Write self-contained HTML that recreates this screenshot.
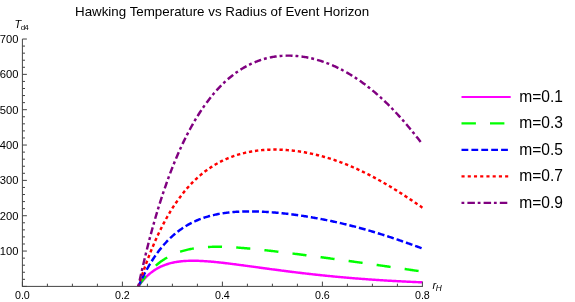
<!DOCTYPE html>
<html><head><meta charset="utf-8"><title>Hawking Temperature vs Radius of Event Horizon</title>
<style>html,body{margin:0;padding:0;background:#fff;}body{width:575px;height:302px;overflow:hidden;position:relative;font-family:"Liberation Sans",sans-serif;}</style></head>
<body>
<svg width="575" height="302" viewBox="0 0 575 302" style="position:absolute;left:0;top:0;font-family:'Liberation Sans',sans-serif;will-change:transform">
<rect width="575" height="302" fill="#fff"/>
<path d="M138.40,286.40 L139.35,285.05 L140.30,283.77 L141.25,282.54 L142.20,281.36 L143.15,280.24 L144.10,279.16 L145.05,278.14 L146.00,277.16 L146.95,276.22 L147.90,275.33 L148.85,274.48 L149.80,273.67 L150.75,272.89 L151.70,272.15 L152.65,271.45 L153.60,270.78 L154.55,270.14 L155.50,269.54 L156.45,268.96 L157.40,268.41 L158.35,267.89 L159.30,267.39 L160.25,266.92 L161.20,266.47 L162.15,266.05 L163.10,265.65 L164.05,265.27 L165.00,264.91 L165.95,264.58 L166.89,264.26 L167.84,263.96 L168.79,263.68 L169.74,263.41 L170.69,263.16 L171.64,262.93 L172.59,262.71 L173.54,262.50 L174.49,262.31 L175.44,262.14 L176.39,261.97 L177.34,261.82 L178.29,261.68 L179.24,261.56 L180.19,261.44 L181.14,261.33 L182.09,261.24 L183.04,261.15 L183.99,261.07 L184.94,261.01 L185.89,260.95 L186.84,260.90 L187.79,260.85 L188.74,260.82 L189.69,260.79 L190.64,260.77 L191.59,260.76 L192.54,260.75 L193.49,260.75 L194.44,260.76 L195.39,260.77 L196.34,260.79 L197.29,260.81 L198.24,260.84 L199.19,260.87 L200.14,260.91 L201.09,260.95 L202.04,261.00 L202.99,261.05 L203.94,261.10 L204.89,261.16 L205.84,261.22 L206.79,261.29 L207.74,261.36 L208.69,261.43 L209.64,261.50 L210.59,261.58 L211.54,261.66 L212.49,261.75 L213.44,261.84 L214.39,261.93 L215.34,262.02 L216.29,262.11 L217.24,262.21 L218.19,262.31 L219.14,262.41 L220.09,262.51 L221.04,262.61 L221.99,262.72 L222.94,262.83 L223.88,262.93 L224.83,263.05 L225.78,263.16 L226.73,263.27 L227.68,263.39 L228.63,263.50 L229.58,263.62 L230.53,263.74 L231.48,263.86 L232.43,263.97 L233.38,264.10 L234.33,264.22 L235.28,264.34 L236.23,264.46 L237.18,264.59 L238.13,264.71 L239.08,264.84 L240.03,264.96 L240.98,265.09 L241.93,265.22 L242.88,265.34 L243.83,265.47 L244.78,265.60 L245.73,265.73 L246.68,265.86 L247.63,265.99 L248.58,266.11 L249.53,266.24 L250.48,266.37 L251.43,266.50 L252.38,266.63 L253.33,266.76 L254.28,266.89 L255.23,267.02 L256.18,267.15 L257.13,267.28 L258.08,267.41 L259.03,267.54 L259.98,267.67 L260.93,267.80 L261.88,267.93 L262.83,268.06 L263.78,268.19 L264.73,268.32 L265.68,268.45 L266.63,268.57 L267.58,268.70 L268.53,268.83 L269.48,268.96 L270.43,269.09 L271.38,269.21 L272.33,269.34 L273.28,269.47 L274.23,269.59 L275.18,269.72 L276.13,269.84 L277.08,269.97 L278.03,270.09 L278.98,270.22 L279.93,270.34 L280.87,270.46 L281.82,270.59 L282.77,270.71 L283.72,270.83 L284.67,270.95 L285.62,271.08 L286.57,271.20 L287.52,271.32 L288.47,271.44 L289.42,271.55 L290.37,271.67 L291.32,271.79 L292.27,271.91 L293.22,272.03 L294.17,272.14 L295.12,272.26 L296.07,272.38 L297.02,272.49 L297.97,272.60 L298.92,272.72 L299.87,272.83 L300.82,272.94 L301.77,273.06 L302.72,273.17 L303.67,273.28 L304.62,273.39 L305.57,273.50 L306.52,273.61 L307.47,273.72 L308.42,273.83 L309.37,273.93 L310.32,274.04 L311.27,274.15 L312.22,274.25 L313.17,274.36 L314.12,274.46 L315.07,274.57 L316.02,274.67 L316.97,274.77 L317.92,274.87 L318.87,274.97 L319.82,275.07 L320.77,275.17 L321.72,275.27 L322.67,275.37 L323.62,275.47 L324.57,275.57 L325.52,275.66 L326.47,275.76 L327.42,275.86 L328.37,275.95 L329.32,276.05 L330.27,276.14 L331.22,276.23 L332.17,276.32 L333.12,276.42 L334.07,276.51 L335.02,276.60 L335.97,276.69 L336.92,276.78 L337.86,276.86 L338.81,276.95 L339.76,277.04 L340.71,277.13 L341.66,277.21 L342.61,277.30 L343.56,277.38 L344.51,277.47 L345.46,277.55 L346.41,277.63 L347.36,277.71 L348.31,277.80 L349.26,277.88 L350.21,277.96 L351.16,278.04 L352.11,278.11 L353.06,278.19 L354.01,278.27 L354.96,278.35 L355.91,278.42 L356.86,278.50 L357.81,278.57 L358.76,278.65 L359.71,278.72 L360.66,278.80 L361.61,278.87 L362.56,278.94 L363.51,279.01 L364.46,279.08 L365.41,279.15 L366.36,279.22 L367.31,279.29 L368.26,279.36 L369.21,279.43 L370.16,279.49 L371.11,279.56 L372.06,279.63 L373.01,279.69 L373.96,279.76 L374.91,279.82 L375.86,279.88 L376.81,279.95 L377.76,280.01 L378.71,280.07 L379.66,280.13 L380.61,280.19 L381.56,280.25 L382.51,280.31 L383.46,280.37 L384.41,280.43 L385.36,280.49 L386.31,280.55 L387.26,280.60 L388.21,280.66 L389.16,280.71 L390.11,280.77 L391.06,280.82 L392.01,280.88 L392.96,280.93 L393.91,280.98 L394.85,281.04 L395.80,281.09 L396.75,281.14 L397.70,281.19 L398.65,281.24 L399.60,281.29 L400.55,281.34 L401.50,281.39 L402.45,281.44 L403.40,281.48 L404.35,281.53 L405.30,281.58 L406.25,281.62 L407.20,281.67 L408.15,281.72 L409.10,281.76 L410.05,281.80 L411.00,281.85 L411.95,281.89 L412.90,281.93 L413.85,281.98 L414.80,282.02 L415.75,282.06 L416.70,282.10 L417.65,282.14 L418.60,282.18 L419.55,282.22 L420.50,282.26 L421.45,282.30 L422.40,282.34" fill="none" stroke="#ff00ff" stroke-width="2.45"/>
<path d="M138.40,286.40 L139.35,284.93 L140.30,283.50 L141.25,282.12 L142.20,280.78 L143.15,279.48 L144.10,278.23 L145.05,277.01 L146.00,275.83 L146.95,274.68 L147.90,273.58 L148.85,272.50 L149.80,271.47 L150.75,270.46 L151.70,269.49 L152.65,268.55 L153.60,267.64 L154.55,266.76 L155.50,265.90 L156.45,265.08 L157.40,264.28 L158.35,263.51 L159.30,262.77 L160.25,262.05 L161.20,261.36 L162.15,260.69 L163.10,260.04 L164.05,259.42 L165.00,258.82 L165.95,258.24 L166.89,257.68 L167.84,257.14 L168.79,256.62 L169.74,256.12 L170.69,255.64 L171.64,255.17 L172.59,254.73 L173.54,254.30 L174.49,253.89 L175.44,253.49 L176.39,253.11 L177.34,252.74 L178.29,252.39 L179.24,252.06 L180.19,251.73 L181.14,251.43 L182.09,251.13 L183.04,250.85 L183.99,250.58 L184.94,250.32 L185.89,250.07 L186.84,249.84 L187.79,249.62 L188.74,249.40 L189.69,249.20 L190.64,249.01 L191.59,248.83 L192.54,248.66 L193.49,248.49 L194.44,248.34 L195.39,248.19 L196.34,248.06 L197.29,247.93 L198.24,247.81 L199.19,247.70 L200.14,247.59 L201.09,247.50 L202.04,247.41 L202.99,247.32 L203.94,247.25 L204.89,247.18 L205.84,247.11 L206.79,247.05 L207.74,247.00 L208.69,246.96 L209.64,246.92 L210.59,246.88 L211.54,246.85 L212.49,246.83 L213.44,246.81 L214.39,246.80 L215.34,246.79 L216.29,246.78 L217.24,246.78 L218.19,246.78 L219.14,246.79 L220.09,246.80 L221.04,246.82 L221.99,246.84 L222.94,246.86 L223.88,246.89 L224.83,246.92 L225.78,246.95 L226.73,246.99 L227.68,247.03 L228.63,247.07 L229.58,247.11 L230.53,247.16 L231.48,247.21 L232.43,247.27 L233.38,247.32 L234.33,247.38 L235.28,247.44 L236.23,247.51 L237.18,247.57 L238.13,247.64 L239.08,247.71 L240.03,247.78 L240.98,247.85 L241.93,247.93 L242.88,248.01 L243.83,248.09 L244.78,248.17 L245.73,248.25 L246.68,248.33 L247.63,248.42 L248.58,248.51 L249.53,248.59 L250.48,248.68 L251.43,248.78 L252.38,248.87 L253.33,248.96 L254.28,249.06 L255.23,249.15 L256.18,249.25 L257.13,249.35 L258.08,249.45 L259.03,249.55 L259.98,249.65 L260.93,249.75 L261.88,249.86 L262.83,249.96 L263.78,250.06 L264.73,250.17 L265.68,250.28 L266.63,250.38 L267.58,250.49 L268.53,250.60 L269.48,250.71 L270.43,250.82 L271.38,250.93 L272.33,251.04 L273.28,251.15 L274.23,251.27 L275.18,251.38 L276.13,251.49 L277.08,251.61 L278.03,251.72 L278.98,251.84 L279.93,251.95 L280.87,252.07 L281.82,252.18 L282.77,252.30 L283.72,252.42 L284.67,252.53 L285.62,252.65 L286.57,252.77 L287.52,252.89 L288.47,253.01 L289.42,253.13 L290.37,253.25 L291.32,253.37 L292.27,253.49 L293.22,253.61 L294.17,253.73 L295.12,253.85 L296.07,253.97 L297.02,254.09 L297.97,254.21 L298.92,254.33 L299.87,254.46 L300.82,254.58 L301.77,254.70 L302.72,254.82 L303.67,254.95 L304.62,255.07 L305.57,255.19 L306.52,255.32 L307.47,255.44 L308.42,255.56 L309.37,255.69 L310.32,255.81 L311.27,255.94 L312.22,256.06 L313.17,256.19 L314.12,256.31 L315.07,256.44 L316.02,256.56 L316.97,256.69 L317.92,256.81 L318.87,256.94 L319.82,257.06 L320.77,257.19 L321.72,257.32 L322.67,257.44 L323.62,257.57 L324.57,257.70 L325.52,257.82 L326.47,257.95 L327.42,258.08 L328.37,258.21 L329.32,258.33 L330.27,258.46 L331.22,258.59 L332.17,258.72 L333.12,258.85 L334.07,258.97 L335.02,259.10 L335.97,259.23 L336.92,259.36 L337.86,259.49 L338.81,259.62 L339.76,259.75 L340.71,259.88 L341.66,260.01 L342.61,260.14 L343.56,260.27 L344.51,260.40 L345.46,260.53 L346.41,260.66 L347.36,260.79 L348.31,260.92 L349.26,261.05 L350.21,261.19 L351.16,261.32 L352.11,261.45 L353.06,261.58 L354.01,261.71 L354.96,261.84 L355.91,261.98 L356.86,262.11 L357.81,262.24 L358.76,262.38 L359.71,262.51 L360.66,262.64 L361.61,262.78 L362.56,262.91 L363.51,263.04 L364.46,263.18 L365.41,263.31 L366.36,263.45 L367.31,263.58 L368.26,263.72 L369.21,263.85 L370.16,263.99 L371.11,264.12 L372.06,264.26 L373.01,264.39 L373.96,264.53 L374.91,264.66 L375.86,264.80 L376.81,264.94 L377.76,265.07 L378.71,265.21 L379.66,265.35 L380.61,265.48 L381.56,265.62 L382.51,265.76 L383.46,265.89 L384.41,266.03 L385.36,266.17 L386.31,266.31 L387.26,266.45 L388.21,266.58 L389.16,266.72 L390.11,266.86 L391.06,267.00 L392.01,267.14 L392.96,267.28 L393.91,267.41 L394.85,267.55 L395.80,267.69 L396.75,267.83 L397.70,267.97 L398.65,268.11 L399.60,268.25 L400.55,268.39 L401.50,268.53 L402.45,268.67 L403.40,268.81 L404.35,268.95 L405.30,269.08 L406.25,269.22 L407.20,269.36 L408.15,269.50 L409.10,269.64 L410.05,269.78 L411.00,269.92 L411.95,270.06 L412.90,270.20 L413.85,270.34 L414.80,270.48 L415.75,270.62 L416.70,270.76 L417.65,270.90 L418.60,271.04 L419.55,271.18 L420.50,271.32 L421.45,271.46 L422.40,271.59" fill="none" stroke="#00ff00" stroke-width="2.45" stroke-dasharray="14.1 14.2" stroke-dashoffset="1.2"/>
<path d="M138.40,286.40 L139.35,284.30 L140.30,282.26 L141.25,280.26 L142.20,278.31 L143.15,276.40 L144.10,274.55 L145.05,272.73 L146.00,270.97 L146.95,269.24 L147.90,267.56 L148.85,265.92 L149.80,264.32 L150.75,262.75 L151.70,261.23 L152.65,259.74 L153.60,258.29 L154.55,256.88 L155.50,255.50 L156.45,254.16 L157.40,252.85 L158.35,251.57 L159.30,250.33 L160.25,249.12 L161.20,247.94 L162.15,246.78 L163.10,245.66 L164.05,244.57 L165.00,243.50 L165.95,242.46 L166.89,241.45 L167.84,240.47 L168.79,239.51 L169.74,238.58 L170.69,237.67 L171.64,236.78 L172.59,235.92 L173.54,235.08 L174.49,234.26 L175.44,233.47 L176.39,232.70 L177.34,231.95 L178.29,231.21 L179.24,230.50 L180.19,229.81 L181.14,229.14 L182.09,228.48 L183.04,227.85 L183.99,227.23 L184.94,226.63 L185.89,226.05 L186.84,225.48 L187.79,224.93 L188.74,224.40 L189.69,223.88 L190.64,223.37 L191.59,222.89 L192.54,222.41 L193.49,221.95 L194.44,221.51 L195.39,221.07 L196.34,220.65 L197.29,220.25 L198.24,219.85 L199.19,219.47 L200.14,219.10 L201.09,218.75 L202.04,218.40 L202.99,218.07 L203.94,217.74 L204.89,217.43 L205.84,217.13 L206.79,216.84 L207.74,216.56 L208.69,216.28 L209.64,216.02 L210.59,215.77 L211.54,215.53 L212.49,215.29 L213.44,215.07 L214.39,214.85 L215.34,214.64 L216.29,214.44 L217.24,214.25 L218.19,214.06 L219.14,213.88 L220.09,213.72 L221.04,213.55 L221.99,213.40 L222.94,213.25 L223.88,213.11 L224.83,212.97 L225.78,212.85 L226.73,212.72 L227.68,212.61 L228.63,212.50 L229.58,212.40 L230.53,212.30 L231.48,212.21 L232.43,212.12 L233.38,212.04 L234.33,211.97 L235.28,211.90 L236.23,211.83 L237.18,211.77 L238.13,211.72 L239.08,211.67 L240.03,211.62 L240.98,211.58 L241.93,211.55 L242.88,211.52 L243.83,211.49 L244.78,211.47 L245.73,211.45 L246.68,211.43 L247.63,211.42 L248.58,211.42 L249.53,211.42 L250.48,211.42 L251.43,211.42 L252.38,211.43 L253.33,211.44 L254.28,211.46 L255.23,211.48 L256.18,211.50 L257.13,211.53 L258.08,211.56 L259.03,211.59 L259.98,211.62 L260.93,211.66 L261.88,211.70 L262.83,211.75 L263.78,211.80 L264.73,211.85 L265.68,211.90 L266.63,211.96 L267.58,212.02 L268.53,212.08 L269.48,212.14 L270.43,212.21 L271.38,212.28 L272.33,212.35 L273.28,212.43 L274.23,212.51 L275.18,212.59 L276.13,212.67 L277.08,212.75 L278.03,212.84 L278.98,212.93 L279.93,213.02 L280.87,213.12 L281.82,213.21 L282.77,213.31 L283.72,213.41 L284.67,213.52 L285.62,213.62 L286.57,213.73 L287.52,213.84 L288.47,213.95 L289.42,214.07 L290.37,214.18 L291.32,214.30 L292.27,214.42 L293.22,214.55 L294.17,214.67 L295.12,214.80 L296.07,214.93 L297.02,215.06 L297.97,215.19 L298.92,215.33 L299.87,215.46 L300.82,215.60 L301.77,215.74 L302.72,215.89 L303.67,216.03 L304.62,216.18 L305.57,216.33 L306.52,216.48 L307.47,216.63 L308.42,216.78 L309.37,216.94 L310.32,217.10 L311.27,217.26 L312.22,217.42 L313.17,217.59 L314.12,217.75 L315.07,217.92 L316.02,218.09 L316.97,218.26 L317.92,218.43 L318.87,218.61 L319.82,218.79 L320.77,218.97 L321.72,219.15 L322.67,219.33 L323.62,219.52 L324.57,219.70 L325.52,219.89 L326.47,220.08 L327.42,220.28 L328.37,220.47 L329.32,220.67 L330.27,220.86 L331.22,221.06 L332.17,221.27 L333.12,221.47 L334.07,221.68 L335.02,221.88 L335.97,222.09 L336.92,222.31 L337.86,222.52 L338.81,222.74 L339.76,222.95 L340.71,223.17 L341.66,223.39 L342.61,223.62 L343.56,223.84 L344.51,224.07 L345.46,224.30 L346.41,224.53 L347.36,224.76 L348.31,224.99 L349.26,225.23 L350.21,225.47 L351.16,225.71 L352.11,225.95 L353.06,226.19 L354.01,226.44 L354.96,226.69 L355.91,226.94 L356.86,227.19 L357.81,227.44 L358.76,227.70 L359.71,227.96 L360.66,228.22 L361.61,228.48 L362.56,228.74 L363.51,229.00 L364.46,229.27 L365.41,229.54 L366.36,229.81 L367.31,230.08 L368.26,230.35 L369.21,230.63 L370.16,230.91 L371.11,231.19 L372.06,231.47 L373.01,231.75 L373.96,232.04 L374.91,232.32 L375.86,232.61 L376.81,232.90 L377.76,233.19 L378.71,233.49 L379.66,233.78 L380.61,234.08 L381.56,234.38 L382.51,234.68 L383.46,234.98 L384.41,235.28 L385.36,235.59 L386.31,235.89 L387.26,236.20 L388.21,236.51 L389.16,236.82 L390.11,237.14 L391.06,237.45 L392.01,237.77 L392.96,238.08 L393.91,238.40 L394.85,238.72 L395.80,239.05 L396.75,239.37 L397.70,239.69 L398.65,240.02 L399.60,240.35 L400.55,240.67 L401.50,241.00 L402.45,241.33 L403.40,241.67 L404.35,242.00 L405.30,242.33 L406.25,242.67 L407.20,243.00 L408.15,243.34 L409.10,243.68 L410.05,244.02 L411.00,244.36 L411.95,244.70 L412.90,245.04 L413.85,245.39 L414.80,245.73 L415.75,246.07 L416.70,246.42 L417.65,246.77 L418.60,247.11 L419.55,247.46 L420.50,247.81 L421.45,248.16 L422.40,248.51" fill="none" stroke="#0000ff" stroke-width="2.45" stroke-dasharray="6.9 2.95" stroke-dashoffset="1.08"/>
<path d="M138.40,286.40 L139.35,283.40 L140.30,280.46 L141.25,277.57 L142.20,274.74 L143.15,271.96 L144.10,269.24 L145.05,266.56 L146.00,263.94 L146.95,261.37 L147.90,258.84 L148.85,256.37 L149.80,253.94 L150.75,251.56 L151.70,249.22 L152.65,246.93 L153.60,244.69 L154.55,242.49 L155.50,240.33 L156.45,238.21 L157.40,236.13 L158.35,234.09 L159.30,232.10 L160.25,230.14 L161.20,228.22 L162.15,226.34 L163.10,224.49 L164.05,222.69 L165.00,220.91 L165.95,219.17 L166.89,217.47 L167.84,215.80 L168.79,214.16 L169.74,212.56 L170.69,210.99 L171.64,209.45 L172.59,207.94 L173.54,206.46 L174.49,205.01 L175.44,203.59 L176.39,202.20 L177.34,200.83 L178.29,199.50 L179.24,198.19 L180.19,196.91 L181.14,195.65 L182.09,194.42 L183.04,193.22 L183.99,192.04 L184.94,190.88 L185.89,189.75 L186.84,188.64 L187.79,187.56 L188.74,186.49 L189.69,185.46 L190.64,184.44 L191.59,183.44 L192.54,182.47 L193.49,181.51 L194.44,180.58 L195.39,179.66 L196.34,178.77 L197.29,177.90 L198.24,177.04 L199.19,176.20 L200.14,175.39 L201.09,174.59 L202.04,173.80 L202.99,173.04 L203.94,172.29 L204.89,171.56 L205.84,170.84 L206.79,170.14 L207.74,169.46 L208.69,168.80 L209.64,168.14 L210.59,167.51 L211.54,166.89 L212.49,166.28 L213.44,165.69 L214.39,165.11 L215.34,164.55 L216.29,164.00 L217.24,163.46 L218.19,162.93 L219.14,162.42 L220.09,161.93 L221.04,161.44 L221.99,160.97 L222.94,160.51 L223.88,160.06 L224.83,159.62 L225.78,159.20 L226.73,158.78 L227.68,158.38 L228.63,157.99 L229.58,157.61 L230.53,157.24 L231.48,156.88 L232.43,156.53 L233.38,156.19 L234.33,155.86 L235.28,155.55 L236.23,155.24 L237.18,154.94 L238.13,154.65 L239.08,154.37 L240.03,154.10 L240.98,153.84 L241.93,153.58 L242.88,153.34 L243.83,153.10 L244.78,152.88 L245.73,152.66 L246.68,152.45 L247.63,152.25 L248.58,152.05 L249.53,151.87 L250.48,151.69 L251.43,151.52 L252.38,151.36 L253.33,151.21 L254.28,151.06 L255.23,150.92 L256.18,150.79 L257.13,150.66 L258.08,150.55 L259.03,150.44 L259.98,150.33 L260.93,150.24 L261.88,150.15 L262.83,150.07 L263.78,149.99 L264.73,149.92 L265.68,149.86 L266.63,149.80 L267.58,149.75 L268.53,149.71 L269.48,149.67 L270.43,149.64 L271.38,149.62 L272.33,149.60 L273.28,149.59 L274.23,149.58 L275.18,149.58 L276.13,149.58 L277.08,149.60 L278.03,149.61 L278.98,149.64 L279.93,149.67 L280.87,149.70 L281.82,149.74 L282.77,149.79 L283.72,149.84 L284.67,149.90 L285.62,149.96 L286.57,150.03 L287.52,150.10 L288.47,150.18 L289.42,150.26 L290.37,150.35 L291.32,150.45 L292.27,150.55 L293.22,150.66 L294.17,150.77 L295.12,150.88 L296.07,151.00 L297.02,151.13 L297.97,151.26 L298.92,151.40 L299.87,151.54 L300.82,151.69 L301.77,151.84 L302.72,152.00 L303.67,152.16 L304.62,152.33 L305.57,152.50 L306.52,152.68 L307.47,152.86 L308.42,153.05 L309.37,153.24 L310.32,153.44 L311.27,153.64 L312.22,153.85 L313.17,154.06 L314.12,154.27 L315.07,154.50 L316.02,154.72 L316.97,154.95 L317.92,155.19 L318.87,155.43 L319.82,155.68 L320.77,155.93 L321.72,156.18 L322.67,156.44 L323.62,156.71 L324.57,156.98 L325.52,157.25 L326.47,157.53 L327.42,157.81 L328.37,158.10 L329.32,158.40 L330.27,158.70 L331.22,159.00 L332.17,159.31 L333.12,159.62 L334.07,159.94 L335.02,160.26 L335.97,160.58 L336.92,160.91 L337.86,161.25 L338.81,161.59 L339.76,161.94 L340.71,162.29 L341.66,162.64 L342.61,163.00 L343.56,163.36 L344.51,163.73 L345.46,164.11 L346.41,164.48 L347.36,164.86 L348.31,165.25 L349.26,165.64 L350.21,166.04 L351.16,166.44 L352.11,166.84 L353.06,167.25 L354.01,167.67 L354.96,168.09 L355.91,168.51 L356.86,168.94 L357.81,169.37 L358.76,169.80 L359.71,170.25 L360.66,170.69 L361.61,171.14 L362.56,171.59 L363.51,172.05 L364.46,172.51 L365.41,172.98 L366.36,173.45 L367.31,173.93 L368.26,174.41 L369.21,174.89 L370.16,175.38 L371.11,175.87 L372.06,176.37 L373.01,176.87 L373.96,177.37 L374.91,177.88 L375.86,178.40 L376.81,178.91 L377.76,179.43 L378.71,179.96 L379.66,180.49 L380.61,181.02 L381.56,181.56 L382.51,182.10 L383.46,182.64 L384.41,183.19 L385.36,183.74 L386.31,184.30 L387.26,184.86 L388.21,185.42 L389.16,185.98 L390.11,186.55 L391.06,187.13 L392.01,187.70 L392.96,188.28 L393.91,188.87 L394.85,189.45 L395.80,190.04 L396.75,190.64 L397.70,191.23 L398.65,191.83 L399.60,192.43 L400.55,193.04 L401.50,193.65 L402.45,194.26 L403.40,194.87 L404.35,195.49 L405.30,196.11 L406.25,196.73 L407.20,197.36 L408.15,197.98 L409.10,198.61 L410.05,199.25 L411.00,199.88 L411.95,200.52 L412.90,201.16 L413.85,201.80 L414.80,202.44 L415.75,203.09 L416.70,203.74 L417.65,204.38 L418.60,205.04 L419.55,205.69 L420.50,206.34 L421.45,207.00 L422.40,207.66" fill="none" stroke="#ff0000" stroke-width="2.45" stroke-dasharray="3.3 2.835" stroke-dashoffset="0.68"/>
<path d="M138.40,286.40 L139.35,281.97 L140.30,277.61 L141.25,273.34 L142.20,269.14 L143.15,265.01 L144.10,260.96 L145.05,256.98 L146.00,253.07 L146.95,249.23 L147.90,245.45 L148.85,241.74 L149.80,238.09 L150.75,234.51 L151.70,230.99 L152.65,227.53 L153.60,224.13 L154.55,220.78 L155.50,217.50 L156.45,214.27 L157.40,211.09 L158.35,207.97 L159.30,204.90 L160.25,201.88 L161.20,198.92 L162.15,196.00 L163.10,193.13 L164.05,190.32 L165.00,187.54 L165.95,184.82 L166.89,182.14 L167.84,179.51 L168.79,176.92 L169.74,174.37 L170.69,171.86 L171.64,169.40 L172.59,166.98 L173.54,164.60 L174.49,162.26 L175.44,159.96 L176.39,157.69 L177.34,155.47 L178.29,153.28 L179.24,151.13 L180.19,149.01 L181.14,146.93 L182.09,144.89 L183.04,142.87 L183.99,140.90 L184.94,138.95 L185.89,137.04 L186.84,135.17 L187.79,133.32 L188.74,131.50 L189.69,129.72 L190.64,127.97 L191.59,126.24 L192.54,124.55 L193.49,122.88 L194.44,121.25 L195.39,119.64 L196.34,118.06 L197.29,116.51 L198.24,114.98 L199.19,113.49 L200.14,112.01 L201.09,110.57 L202.04,109.15 L202.99,107.75 L203.94,106.38 L204.89,105.04 L205.84,103.72 L206.79,102.42 L207.74,101.15 L208.69,99.90 L209.64,98.67 L210.59,97.47 L211.54,96.28 L212.49,95.13 L213.44,93.99 L214.39,92.87 L215.34,91.78 L216.29,90.70 L217.24,89.65 L218.19,88.62 L219.14,87.61 L220.09,86.62 L221.04,85.64 L221.99,84.69 L222.94,83.76 L223.88,82.84 L224.83,81.95 L225.78,81.07 L226.73,80.21 L227.68,79.37 L228.63,78.55 L229.58,77.75 L230.53,76.96 L231.48,76.19 L232.43,75.44 L233.38,74.70 L234.33,73.99 L235.28,73.28 L236.23,72.60 L237.18,71.93 L238.13,71.27 L239.08,70.64 L240.03,70.01 L240.98,69.41 L241.93,68.82 L242.88,68.24 L243.83,67.68 L244.78,67.13 L245.73,66.60 L246.68,66.08 L247.63,65.58 L248.58,65.09 L249.53,64.61 L250.48,64.15 L251.43,63.70 L252.38,63.27 L253.33,62.85 L254.28,62.44 L255.23,62.05 L256.18,61.66 L257.13,61.30 L258.08,60.94 L259.03,60.60 L259.98,60.27 L260.93,59.95 L261.88,59.64 L262.83,59.35 L263.78,59.07 L264.73,58.80 L265.68,58.54 L266.63,58.29 L267.58,58.06 L268.53,57.83 L269.48,57.62 L270.43,57.42 L271.38,57.23 L272.33,57.05 L273.28,56.88 L274.23,56.73 L275.18,56.58 L276.13,56.45 L277.08,56.32 L278.03,56.21 L278.98,56.10 L279.93,56.01 L280.87,55.93 L281.82,55.85 L282.77,55.79 L283.72,55.74 L284.67,55.69 L285.62,55.66 L286.57,55.64 L287.52,55.63 L288.47,55.62 L289.42,55.63 L290.37,55.64 L291.32,55.67 L292.27,55.70 L293.22,55.75 L294.17,55.80 L295.12,55.86 L296.07,55.94 L297.02,56.02 L297.97,56.11 L298.92,56.21 L299.87,56.32 L300.82,56.43 L301.77,56.56 L302.72,56.70 L303.67,56.84 L304.62,56.99 L305.57,57.16 L306.52,57.33 L307.47,57.51 L308.42,57.70 L309.37,57.89 L310.32,58.10 L311.27,58.31 L312.22,58.54 L313.17,58.77 L314.12,59.01 L315.07,59.26 L316.02,59.52 L316.97,59.78 L317.92,60.06 L318.87,60.34 L319.82,60.63 L320.77,60.94 L321.72,61.24 L322.67,61.56 L323.62,61.89 L324.57,62.22 L325.52,62.57 L326.47,62.92 L327.42,63.28 L328.37,63.65 L329.32,64.03 L330.27,64.41 L331.22,64.81 L332.17,65.21 L333.12,65.62 L334.07,66.04 L335.02,66.47 L335.97,66.91 L336.92,67.35 L337.86,67.81 L338.81,68.27 L339.76,68.74 L340.71,69.22 L341.66,69.71 L342.61,70.21 L343.56,70.72 L344.51,71.23 L345.46,71.75 L346.41,72.29 L347.36,72.83 L348.31,73.38 L349.26,73.94 L350.21,74.50 L351.16,75.08 L352.11,75.67 L353.06,76.26 L354.01,76.86 L354.96,77.48 L355.91,78.10 L356.86,78.73 L357.81,79.37 L358.76,80.01 L359.71,80.67 L360.66,81.34 L361.61,82.01 L362.56,82.70 L363.51,83.39 L364.46,84.09 L365.41,84.80 L366.36,85.52 L367.31,86.25 L368.26,86.99 L369.21,87.74 L370.16,88.50 L371.11,89.27 L372.06,90.04 L373.01,90.83 L373.96,91.62 L374.91,92.43 L375.86,93.24 L376.81,94.06 L377.76,94.90 L378.71,95.74 L379.66,96.59 L380.61,97.45 L381.56,98.32 L382.51,99.20 L383.46,100.09 L384.41,100.99 L385.36,101.89 L386.31,102.81 L387.26,103.73 L388.21,104.67 L389.16,105.61 L390.11,106.57 L391.06,107.53 L392.01,108.50 L392.96,109.49 L393.91,110.48 L394.85,111.48 L395.80,112.49 L396.75,113.50 L397.70,114.53 L398.65,115.57 L399.60,116.61 L400.55,117.67 L401.50,118.73 L402.45,119.80 L403.40,120.88 L404.35,121.97 L405.30,123.07 L406.25,124.18 L407.20,125.30 L408.15,126.42 L409.10,127.55 L410.05,128.69 L411.00,129.84 L411.95,131.00 L412.90,132.16 L413.85,133.34 L414.80,134.52 L415.75,135.70 L416.70,136.90 L417.65,138.10 L418.60,139.32 L419.55,140.53 L420.50,141.76 L421.45,142.99 L422.40,144.23" fill="none" stroke="#800080" stroke-width="2.45" stroke-dasharray="2.9 3.15 6.95 2.93" stroke-dashoffset="0.1"/>
<g stroke="#444" stroke-width="1" fill="none">
<path d="M22.4,286.4 H422.9"/>
<path d="M22.4,286.9 V39.01999999999998"/>
<path d="M22.40,286.4 v-4.8 M47.40,286.4 v-2.7 M72.40,286.4 v-2.7 M97.40,286.4 v-2.7 M122.40,286.4 v-4.8 M147.40,286.4 v-2.7 M172.40,286.4 v-2.7 M197.40,286.4 v-2.7 M222.40,286.4 v-4.8 M247.40,286.4 v-2.7 M272.40,286.4 v-2.7 M297.40,286.4 v-2.7 M322.40,286.4 v-4.8 M347.40,286.4 v-2.7 M372.40,286.4 v-2.7 M397.40,286.4 v-2.7 M422.40,286.4 v-4.8"/>
<path d="M22.4,286.40 h4.5 M22.4,279.33 h2.6 M22.4,272.26 h2.6 M22.4,265.20 h2.6 M22.4,258.13 h2.6 M22.4,251.06 h4.5 M22.4,243.99 h2.6 M22.4,236.92 h2.6 M22.4,229.86 h2.6 M22.4,222.79 h2.6 M22.4,215.72 h4.5 M22.4,208.65 h2.6 M22.4,201.58 h2.6 M22.4,194.52 h2.6 M22.4,187.45 h2.6 M22.4,180.38 h4.5 M22.4,173.31 h2.6 M22.4,166.24 h2.6 M22.4,159.18 h2.6 M22.4,152.11 h2.6 M22.4,145.04 h4.5 M22.4,137.97 h2.6 M22.4,130.90 h2.6 M22.4,123.84 h2.6 M22.4,116.77 h2.6 M22.4,109.70 h4.5 M22.4,102.63 h2.6 M22.4,95.56 h2.6 M22.4,88.50 h2.6 M22.4,81.43 h2.6 M22.4,74.36 h4.5 M22.4,67.29 h2.6 M22.4,60.22 h2.6 M22.4,53.16 h2.6 M22.4,46.09 h2.6 M22.4,39.02 h4.5"/>
</g>
<g font-size="11.2" fill="#000">
<text x="18.4" y="255.06" text-anchor="end">100</text>
<text x="18.4" y="219.72" text-anchor="end">200</text>
<text x="18.4" y="184.38" text-anchor="end">300</text>
<text x="18.4" y="149.04" text-anchor="end">400</text>
<text x="18.4" y="113.70" text-anchor="end">500</text>
<text x="18.4" y="78.36" text-anchor="end">600</text>
<text x="18.4" y="43.02" text-anchor="end">700</text>
<text x="22.40" y="299.0" text-anchor="middle" textLength="14.9" lengthAdjust="spacingAndGlyphs">0.0</text>
<text x="122.40" y="299.0" text-anchor="middle" textLength="14.9" lengthAdjust="spacingAndGlyphs">0.2</text>
<text x="222.40" y="299.0" text-anchor="middle" textLength="14.9" lengthAdjust="spacingAndGlyphs">0.4</text>
<text x="322.40" y="299.0" text-anchor="middle" textLength="14.9" lengthAdjust="spacingAndGlyphs">0.6</text>
<text x="422.40" y="299.0" text-anchor="middle" textLength="14.9" lengthAdjust="spacingAndGlyphs">0.8</text>
</g>
<text x="14.5" y="27.9" font-size="11" font-style="italic" fill="#000">T</text>
<text x="20.7" y="29.9" font-size="8" fill="#000" letter-spacing="-0.8">d4</text>
<text x="432.4" y="288.9" font-size="11" font-style="italic" fill="#000">r</text>
<text x="435.7" y="290.7" font-size="8.3" font-style="italic" fill="#000">H</text>
<text x="75.0" y="15.8" font-size="13.3" fill="#000" textLength="294.2" lengthAdjust="spacingAndGlyphs">Hawking Temperature vs Radius of Event Horizon</text>
<path d="M461.5,97.00 H510.7" stroke="#ff00ff" stroke-width="2.2"/>
<text x="519.2" y="101.8" font-size="16.2" fill="#000" textLength="43.7" lengthAdjust="spacingAndGlyphs">m=0.1</text>
<path d="M461.5,123.45 H505" stroke="#00ff00" stroke-width="2.2" stroke-dasharray="14.4 14.1"/>
<text x="519.2" y="128.2" font-size="16.2" fill="#000" textLength="43.7" lengthAdjust="spacingAndGlyphs">m=0.3</text>
<path d="M461.5,149.90 H508.5" stroke="#0000ff" stroke-width="2.2" stroke-dasharray="6.8 3.1"/>
<text x="519.2" y="154.7" font-size="16.2" fill="#000" textLength="43.7" lengthAdjust="spacingAndGlyphs">m=0.5</text>
<path d="M461.5,176.35 H508.5" stroke="#ff0000" stroke-width="2.2" stroke-dasharray="3.1 3.13"/>
<text x="519.2" y="181.2" font-size="16.2" fill="#000" textLength="43.7" lengthAdjust="spacingAndGlyphs">m=0.7</text>
<path d="M461.5,202.80 H507.6" stroke="#800080" stroke-width="2.2" stroke-dasharray="2.8 3.1 7.5 2.8"/>
<text x="519.2" y="207.6" font-size="16.2" fill="#000" textLength="43.7" lengthAdjust="spacingAndGlyphs">m=0.9</text>
</svg>
</body></html>
